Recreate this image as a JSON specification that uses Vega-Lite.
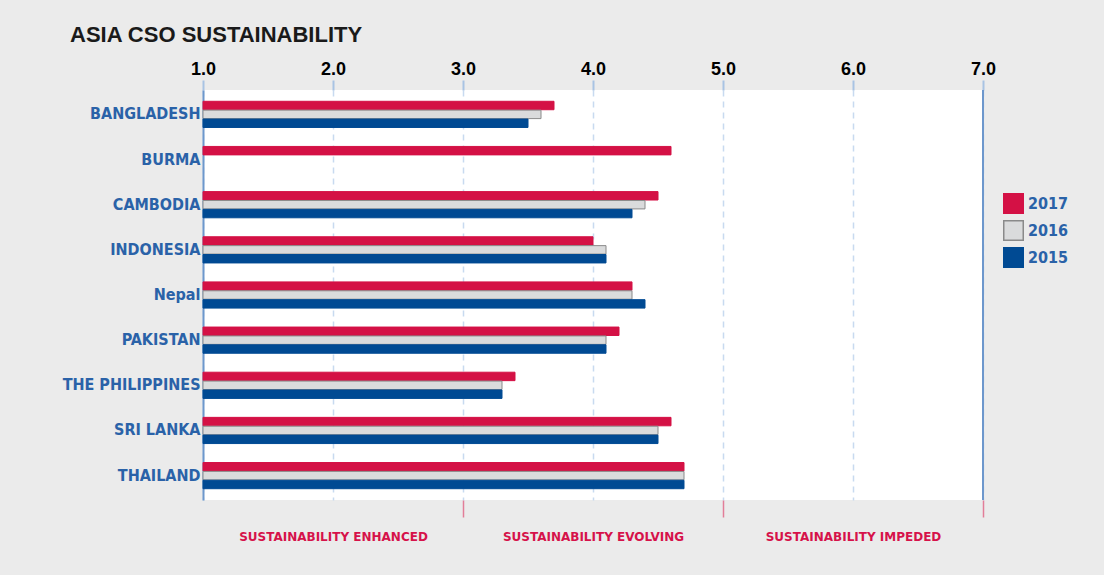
{
  "$schema": "https://vega.github.io/schema/vega-lite/v6.json",
  "width": 780,
  "height": 410,
  "autosize": {"type": "none"},
  "padding": {"left": 203, "top": 90, "right": 121, "bottom": 75},
  "background": "#ebebeb",
  "title": {"text": "ASIA CSO SUSTAINABILITY", "anchor": "start", "frame": "group", "dx": -133, "font": "Liberation Sans", "fontSize": 22, "fontWeight": "bold", "color": "#1a1a1a", "offset": 13},
  "config": {"view": {"fill": "white", "stroke": null}},
  "data": {"values": [
    {"country": "BANGLADESH", "year": "2017", "score": 3.7},
    {"country": "BANGLADESH", "year": "2016", "score": 3.6},
    {"country": "BANGLADESH", "year": "2015", "score": 3.5},
    {"country": "BURMA", "year": "2017", "score": 4.6},
    {"country": "CAMBODIA", "year": "2017", "score": 4.5},
    {"country": "CAMBODIA", "year": "2016", "score": 4.4},
    {"country": "CAMBODIA", "year": "2015", "score": 4.3},
    {"country": "INDONESIA", "year": "2017", "score": 4.0},
    {"country": "INDONESIA", "year": "2016", "score": 4.1},
    {"country": "INDONESIA", "year": "2015", "score": 4.1},
    {"country": "Nepal", "year": "2017", "score": 4.3},
    {"country": "Nepal", "year": "2016", "score": 4.3},
    {"country": "Nepal", "year": "2015", "score": 4.4},
    {"country": "PAKISTAN", "year": "2017", "score": 4.2},
    {"country": "PAKISTAN", "year": "2016", "score": 4.1},
    {"country": "PAKISTAN", "year": "2015", "score": 4.1},
    {"country": "THE PHILIPPINES", "year": "2017", "score": 3.4},
    {"country": "THE PHILIPPINES", "year": "2016", "score": 3.3},
    {"country": "THE PHILIPPINES", "year": "2015", "score": 3.3},
    {"country": "SRI LANKA", "year": "2017", "score": 4.6},
    {"country": "SRI LANKA", "year": "2016", "score": 4.5},
    {"country": "SRI LANKA", "year": "2015", "score": 4.5},
    {"country": "THAILAND", "year": "2017", "score": 4.7},
    {"country": "THAILAND", "year": "2016", "score": 4.7},
    {"country": "THAILAND", "year": "2015", "score": 4.7}
  ]},
  "resolve": {"axis": {"x": "independent"}},
  "layer": [
    {
      "mark": {"type": "bar", "strokeWidth": 1},
      "encoding": {
        "y": {
          "field": "country", "type": "nominal",
          "sort": ["BANGLADESH", "BURMA", "CAMBODIA", "INDONESIA", "Nepal", "PAKISTAN", "THE PHILIPPINES", "SRI LANKA", "THAILAND"],
          "scale": {"paddingInner": 0.42, "paddingOuter": 0.25},
          "axis": {"title": null, "ticks": false, "domainColor": "#6d97cc", "domainWidth": 2, "labelFont": "DejaVu Sans Condensed, sans-serif", "labelFontSize": 16, "labelFontWeight": "bold", "labelColor": "#2a62a8", "labelPadding": 3, "labelLimit": 200}
        },
        "yOffset": {"field": "year", "type": "nominal", "sort": ["2017", "2016", "2015"], "scale": {"paddingInner": 0.05}},
        "x": {
          "field": "score", "type": "quantitative",
          "scale": {"domain": [1, 7], "nice": false, "zero": false},
          "axis": {"orient": "top", "title": null, "values": [1, 2, 3, 4, 5, 6, 7], "format": ".1f", "labelFont": "Liberation Sans", "labelFontSize": 18, "labelFontWeight": "bold", "labelColor": "#000000", "tickColor": "#a8c3e3", "tickSize": 10, "tickWidth": 2, "domain": false, "grid": true, "gridDash": [6, 5], "gridColor": "#c8daf0", "gridWidth": 1.5, "labelPadding": 2, "labelFlush": false}
        },
        "x2": {"datum": 1},
        "color": {
          "field": "year", "type": "nominal",
          "scale": {"domain": ["2017", "2016", "2015"], "range": ["#d41145", "#dadbdc", "#004a93"]},
          "legend": {"title": null, "orient": "none", "legendX": 800, "legendY": 103, "symbolType": "square", "symbolSize": 380, "symbolStrokeWidth": 1.5, "labelFont": "DejaVu Sans Condensed, sans-serif", "labelFontSize": 16, "labelFontWeight": "bold", "labelColor": "#2a62a8", "rowPadding": 0, "labelOffset": 4}
        },
        "stroke": {
          "field": "year", "type": "nominal",
          "scale": {"domain": ["2017", "2016", "2015"], "range": ["#d41145", "#8a8a8a", "#004a93"]},
          "legend": {"title": null, "orient": "none", "legendX": 800, "legendY": 103, "symbolType": "square", "symbolSize": 380, "symbolStrokeWidth": 1.5, "labelFont": "DejaVu Sans Condensed, sans-serif", "labelFontSize": 16, "labelFontWeight": "bold", "labelColor": "#2a62a8", "rowPadding": 0, "labelOffset": 4}
        }
      }
    },
    {
      "data": {"values": [{"edge": 7}]},
      "mark": {"type": "rule", "color": "#6d97cc", "strokeWidth": 2},
      "encoding": {
        "x": {
          "field": "edge", "type": "quantitative",
          "scale": {"domain": [1, 7], "nice": false, "zero": false},
          "axis": {"orient": "bottom", "title": null, "values": [2, 3, 4, 5, 6, 7], "domain": false, "grid": false,
            "labelExpr": "datum.value == 2 ? 'SUSTAINABILITY ENHANCED' : datum.value == 4 ? 'SUSTAINABILITY EVOLVING' : datum.value == 6 ? 'SUSTAINABILITY IMPEDED' : ''",
            "tickColor": {"condition": {"test": "datum.value % 2 == 1", "value": "#e27d98"}, "value": "transparent"},
            "tickSize": 17, "tickWidth": 1.5, "labelColor": "#d6124a", "labelFont": "DejaVu Sans", "labelFontSize": 12, "labelFontWeight": "bold", "labelPadding": 14, "labelLimit": 400, "labelOverlap": false, "labelBound": false, "labelFlush": false}
        }
      }
    }
  ]
}
